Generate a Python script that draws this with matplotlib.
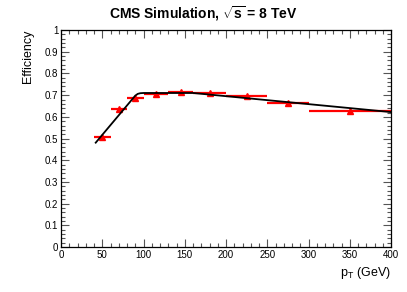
import numpy as np
import matplotlib
matplotlib.use("Agg")
import matplotlib.pyplot as plt
from matplotlib.ticker import MultipleLocator

plt.rcParams['font.family'] = ['Liberation Sans', 'DejaVu Sans']
plt.rcParams['mathtext.fontset'] = 'custom'
plt.rcParams['mathtext.rm'] = 'Liberation Sans'
plt.rcParams['mathtext.bf'] = 'Liberation Sans:bold'
plt.rcParams['mathtext.it'] = 'Liberation Sans:italic'

# efficiency points (bin edges in GeV)
bin_lo = [40, 60, 80, 100, 130, 160, 200, 250, 300]
bin_hi = [60, 80, 100, 130, 160, 200, 250, 300, 400]
pt_center = [50, 70, 90, 115, 145, 180, 225, 275, 350]
eff = [0.505, 0.635, 0.685, 0.707, 0.715, 0.711, 0.695, 0.665, 0.628]

# fitted curve knots
fit_x = [42, 86, 90, 93, 96, 100, 160, 400]
fit_y = [0.481, 0.680, 0.698, 0.706, 0.709, 0.710, 0.710, 0.622]

xerr_lo = np.array(pt_center) - np.array(bin_lo)
xerr_hi = np.array(bin_hi) - np.array(pt_center)

fig = plt.figure(figsize=(4.07, 2.92), dpi=100)
ax = fig.add_axes([0.150, 0.154, 0.811, 0.743])

ax.errorbar(pt_center, eff, xerr=[xerr_lo, xerr_hi], fmt='^', color='red',
            markersize=4.5, elinewidth=1.6, capsize=0, zorder=2)
ax.plot(fit_x, fit_y, color='black', lw=1.3, zorder=3)

ax.set_xlim(0, 400)
ax.set_ylim(0, 1)
ax.xaxis.set_major_locator(MultipleLocator(50))
ax.xaxis.set_minor_locator(MultipleLocator(10))
ax.yaxis.set_major_locator(MultipleLocator(0.1))
ax.yaxis.set_minor_locator(MultipleLocator(0.02))
ax.set_yticks(np.arange(0, 1.01, 0.1))
ax.set_yticklabels(['0', '0.1', '0.2', '0.3', '0.4', '0.5', '0.6', '0.7', '0.8', '0.9', '1'])
ax.tick_params(which='both', direction='in', top=True, right=True,
               labelsize=7, color='#555555', pad=2)
ax.tick_params(which='major', length=6, width=0.8)
ax.tick_params(which='minor', length=3, width=0.8)
for s in ax.spines.values():
    s.set_linewidth(0.9)

ax.set_xlabel('p$_{\\mathrm{T}}$ (GeV)', fontsize=9, loc='right', labelpad=4)
ax.set_ylabel('Efficiency', fontsize=9, loc='top', labelpad=8)
fig.text(0.5, 0.952, 'CMS Simulation, $\\mathbf{\\sqrt{s}}$ = 8 TeV', ha='center',
         va='center', fontsize=10, fontweight='bold')

fig.savefig('out.png', dpi=100)
